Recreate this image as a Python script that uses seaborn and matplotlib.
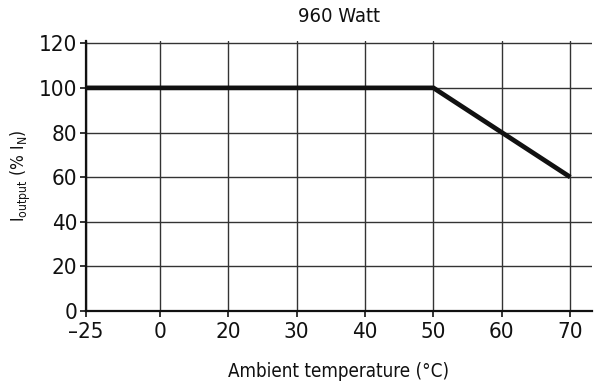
import numpy as np
import pandas as pd
import matplotlib
matplotlib.use("Agg")
import matplotlib.pyplot as plt
import seaborn as sns

# derating curve, 960 W
temps = ["\u201325", "0", "20", "30", "40", "50", "60", "70"]
curve_temps = ["\u201325", "50", "70"]
curve_output = [100, 100, 60]
y_ticks = [0, 20, 40, 60, 80, 100, 120]

# axis is not linear: evenly spaced ticks, the first gap slightly wider
xpos = np.arange(len(temps), dtype=float)
xpos[0] -= 0.08
pos = dict(zip(temps, xpos))

df = pd.DataFrame({"x": [pos[t] for t in curve_temps], "y": curve_output})

sns.set_style("white")
plt.rcParams["font.family"] = ["DejaVu Sans"]
plt.rcParams["font.stretch"] = "condensed"
plt.rcParams["mathtext.fontset"] = "custom"
plt.rcParams["mathtext.rm"] = "DejaVu Sans:stretch=condensed"

fig = plt.figure(figsize=(6, 3.89), dpi=100)
ax = fig.add_axes([0.143, 0.2005, 0.844, 0.694])

sns.lineplot(data=df, x="x", y="y", ax=ax, color="#111111", linewidth=3.4,
             solid_capstyle="butt", solid_joinstyle="miter", zorder=3)

ax.set_xticks([pos[t] for t in temps])
ax.set_xticklabels(temps)
ax.set_yticks(y_ticks)
ax.set_xlim(pos["\u201325"], pos["70"] + 0.32)
ax.set_ylim(0, 121)

ax.grid(True, color="#333333", linewidth=1.0)
for s in ["top", "right"]:
    ax.spines[s].set_visible(False)
for s in ["left", "bottom"]:
    ax.spines[s].set_color("#111111")
    ax.spines[s].set_linewidth(1.6)
ax.tick_params(axis="both", direction="out", length=4, width=1.2,
               color="#111111", labelsize=16, labelcolor="#111111",
               left=True, bottom=True)
ax.tick_params(axis="y", pad=2)
ax.tick_params(axis="x", pad=4)

ax.set_xlabel("Ambient temperature (°C)", fontsize=13.5, color="#111111", labelpad=14)
ax.set_ylabel(r"I$_{\rm output}$ (% I$_{\rm N}$)", fontsize=12.5, color="#111111", labelpad=4)
ax.set_title("960 Watt", fontsize=14.5, color="#111111", pad=14)

fig.savefig("out.png", dpi=100)
